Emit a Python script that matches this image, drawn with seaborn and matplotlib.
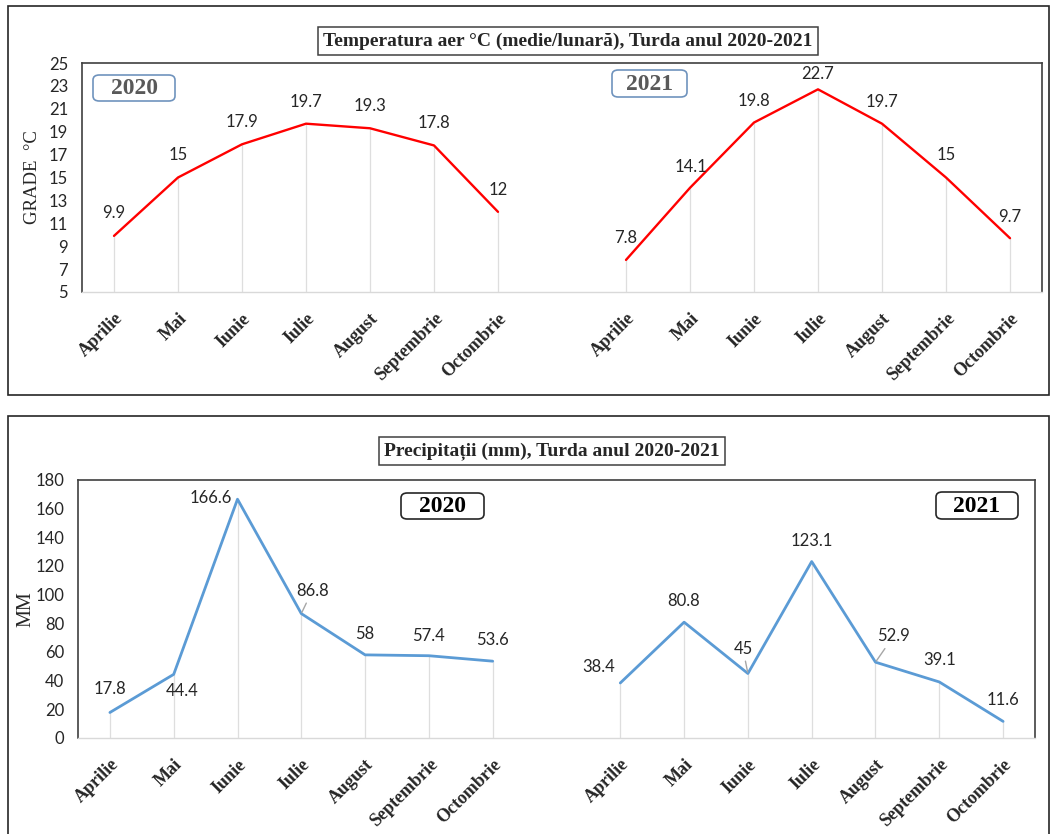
import matplotlib
matplotlib.use("Agg")
import matplotlib.pyplot as plt
import seaborn as sns
import pandas as pd
from matplotlib.patches import Rectangle, FancyBboxPatch

# month categories (one empty slot between the two years)
months = ['Aprilie', 'Mai', 'Iunie', 'Iulie', 'August', 'Septembrie', 'Octombrie']
years = ['2020', '2021']

temp_2020 = [9.9, 15, 17.9, 19.7, 19.3, 17.8, 12]
temp_2021 = [7.8, 14.1, 19.8, 22.7, 19.7, 15, 9.7]

prec_2020 = [17.8, 44.4, 166.6, 86.8, 58, 57.4, 53.6]
prec_2021 = [38.4, 80.8, 45, 123.1, 52.9, 39.1, 11.6]

W, H = 1050, 834
SERIF = 'Liberation Serif'
SANS = 'Lato'

sns.set_style('white')
plt.rcParams['font.family'] = [SANS, 'DejaVu Sans']


def make_frame(v2020, v2021):
    rows = []
    for yi, vals in enumerate([v2020, v2021]):
        for mi, v in enumerate(vals):
            pos = yi * (len(months) + 1) + mi
            rows.append({'pos': pos, 'month': months[mi], 'year': years[yi], 'value': v})
    return pd.DataFrame(rows)


def fx(px):
    return px / W


def fy(py):
    return 1 - py / H


fig = plt.figure(figsize=(W / 100, H / 100), dpi=100)

# panel frames
fig.patches.append(Rectangle((fx(8), fy(395)), fx(1041), (395 - 6) / H, transform=fig.transFigure,
                             fill=False, edgecolor='#262626', linewidth=1.2))
fig.patches.append(Rectangle((fx(8), fy(840)), fx(1041), (840 - 416) / H, transform=fig.transFigure,
                             fill=False, edgecolor='#262626', linewidth=1.2))


def year_box(x0, y0, x1, y1, text, tcolor, ecolor):
    fig.patches.append(FancyBboxPatch((fx(x0), fy(y1)), fx(x1 - x0), (y1 - y0) / H,
                                      boxstyle='round,pad=0,rounding_size=0.006',
                                      transform=fig.transFigure, facecolor='white',
                                      edgecolor=ecolor, linewidth=1.2, zorder=5))
    fig.text(fx((x0 + x1) / 2), fy((y0 + y1) / 2 + 1), text, ha='center', va='center',
             fontsize=17, fontweight='bold', fontfamily=SERIF, color=tcolor, zorder=6)


def draw_panel(ax, df, color, ylim, yticks, ylabel, ylabelsize, ylabelpad, offsets, leaders, lw):
    sns.lineplot(data=df, x='pos', y='value', hue='year', palette=[color, color],
                 legend=False, ax=ax, linewidth=lw)
    ax.vlines(df['pos'], ylim[0], df['value'], color='#dedede', linewidth=0.9, zorder=0)
    ax.set_xlim(-0.5, 2 * len(months) + 0.5)
    ax.set_ylim(*ylim)
    ax.set_yticks(yticks)
    ax.set_yticklabels([str(t) for t in yticks], fontsize=12, fontfamily=SANS)
    labels = []
    for p in range(2 * len(months) + 1):
        labels.append('' if p == len(months) else months[p % (len(months) + 1)])
    ax.set_xticks(range(2 * len(months) + 1))
    ax.set_xticklabels(labels, rotation=45, ha='right', rotation_mode='anchor',
                       fontsize=13, fontweight='bold', fontfamily=SERIF)
    ax.tick_params(axis='y', length=0, pad=10)
    ax.tick_params(axis='x', length=0, pad=13)
    ax.set_xlabel('')
    ax.set_ylabel(ylabel, fontsize=ylabelsize, fontfamily=SERIF, labelpad=ylabelpad)
    for s in ['left', 'top', 'right']:
        ax.spines[s].set_color('#404040')
        ax.spines[s].set_linewidth(1.2)
    ax.spines['bottom'].set_color('#d9d9d9')
    ax.spines['bottom'].set_linewidth(1.0)
    for i, (x, v) in enumerate(zip(df['pos'], df['value'])):
        dx, dy = offsets[i]
        txt = f'{v:g}'
        kw = dict(xytext=(dx * 0.72, dy * 0.72), textcoords='offset points',
                  ha='center', va='center', fontsize=12, color='#262626')
        if i in leaders:
            kw['arrowprops'] = dict(arrowstyle='-', color='#a6a6a6', lw=1.0,
                                    shrinkA=1, shrinkB=1)
        ax.annotate(txt, (x, v), **kw)


# ---------------- temperature ----------------
ax1 = fig.add_axes([fx(82), fy(292), fx(1042 - 82), (292 - 63) / H])
temp_df = make_frame(temp_2020, temp_2021)
temp_off = [(0, 23), (0, 22), (0, 22), (0, 22), (0, 22), (0, 22), (0, 22),
            (0, 22), (1, 21), (0, 22), (0, 15), (0, 22), (0, 22), (0, 21)]
draw_panel(ax1, temp_df, '#ff0000', (5, 25), list(range(5, 26, 2)), 'GRADE  \u00b0C', 13.5, 6,
           temp_off, [], 1.7)

fig.text(fx(568), fy(41), 'Temperatura aer \u00b0C (medie/lunar\u0103), Turda anul 2020-2021',
         ha='center', va='center', fontsize=14, fontweight='bold', fontfamily=SERIF,
         bbox=dict(boxstyle='square,pad=0.25', facecolor='white', edgecolor='#404040', linewidth=1.1))

year_box(93, 75, 175, 101, years[0], '#595959', '#6f93bd')
year_box(612, 70, 687, 97, years[1], '#595959', '#6f93bd')

# ---------------- precipitation ----------------
ax2 = fig.add_axes([fx(78), fy(738), fx(1035 - 78), (738 - 480) / H])
prec_df = make_frame(prec_2020, prec_2021)
prec_off = [(0, 23), (8, -17), (-27, 1), (11, 23), (0, 21), (0, 20), (0, 21),
            (-22, 16), (0, 21), (-5, 25), (0, 21), (18, 26), (0, 22), (0, 21)]
draw_panel(ax2, prec_df, '#5b9bd5', (0, 180), list(range(0, 181, 20)), 'MM', 14.5, 0,
           prec_off, [3, 9, 11], 2.0)

fig.text(fx(552), fy(451), 'Precipita\u021bii (mm), Turda anul 2020-2021',
         ha='center', va='center', fontsize=14, fontweight='bold', fontfamily=SERIF,
         bbox=dict(boxstyle='square,pad=0.25', facecolor='white', edgecolor='#404040', linewidth=1.1))

year_box(401, 493, 484, 519, years[0], 'black', '#262626')
year_box(936, 492, 1018, 519, years[1], 'black', '#262626')

fig.savefig('out.png', dpi=100, facecolor='white')
